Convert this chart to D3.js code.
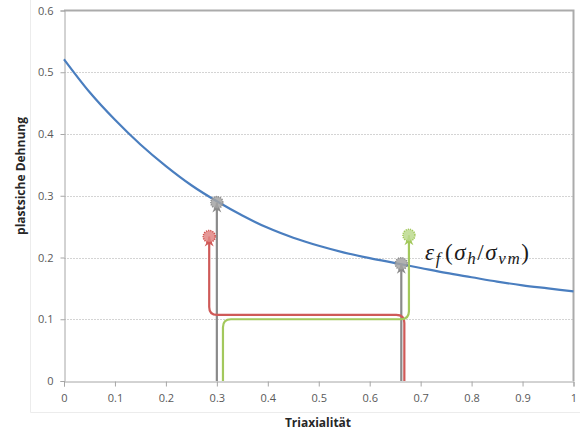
<!DOCTYPE html>
<html>
<head>
<meta charset="utf-8">
<script src="https://cdn.jsdelivr.net/npm/d3@7"></script>
<style>
  html, body { margin: 0; padding: 0; background: #fff; }
  svg { display: block; }
</style>
</head>
<body>
<svg id="chart" width="580" height="434"></svg>
<script>
// Fracture strain as a function of stress triaxiality
const triaxiality = [0, 0.05, 0.1, 0.15, 0.2, 0.25, 0.3, 0.35, 0.4, 0.45, 0.5,
                     0.55, 0.6, 0.65, 0.7, 0.75, 0.8, 0.85, 0.9, 0.95, 1];
const strain = [0.521, 0.468, 0.423, 0.383, 0.348, 0.317, 0.291, 0.268, 0.248, 0.232, 0.219,
                0.208, 0.199, 0.191, 0.183, 0.175, 0.168, 0.161, 0.155, 0.150, 0.145];

// Tick labels
const xTicks = [0, 0.1, 0.2, 0.3, 0.4, 0.5, 0.6, 0.7, 0.8, 0.9, 1];
const xTickLabels = ["0", "0.1", "0.2", "0.3", "0.4", "0.5", "0.6", "0.7", "0.8", "0.9", "1"];
const yTicks = [0, 0.1, 0.2, 0.3, 0.4, 0.5, 0.6];
const yTickLabels = ["0", "0.1", "0.2", "0.3", "0.4", "0.5", "0.6"];

// Load paths: vertical arrows straight up to the curve, and two rerouted paths
const greyPathA = [[0.300, 0], [0.300, 0.289]];
const greyPathB = [[0.662, 0], [0.662, 0.190]];
const redPath   = [[0.668, 0], [0.668, 0.107], [0.285, 0.107], [0.285, 0.234]];
const greenPath = [[0.312, 0], [0.312, 0.100], [0.677, 0.100], [0.677, 0.236]];

// End points of the paths
const pointX = [0.300, 0.662, 0.285, 0.677];
const pointY = [0.289, 0.190, 0.234, 0.236];
const pointKind = ["grey", "grey", "red", "green"];

const svg = d3.select("#chart");
const x = d3.scaleLinear().domain([0, 1]).range([64, 573.5]);
const y = d3.scaleLinear().domain([0, 0.6]).range([381, 10.5]);

const colors = {
  grey:  { line: "#8a8a8a", fill: "#a3a3a3", edge: "#8e8e8e" },
  red:   { line: "#cf5a58", fill: "#e28684", edge: "#cf4f4d" },
  green: { line: "#a3c85c", fill: "#bcd98e", edge: "#a3c85c" }
};

// Faint chart-area frame
svg.append("path")
  .attr("d", "M30.5,0 V412.5 H580")
  .attr("fill", "none")
  .attr("stroke", "#ececec")
  .attr("stroke-width", 1);

// Horizontal gridlines
svg.append("g")
  .selectAll("line")
  .data(yTicks.filter(v => v > 0 && v < 0.6))
  .join("line")
  .attr("x1", x(0)).attr("x2", x(1))
  .attr("y1", d => Math.round(y(d)) + 0.5).attr("y2", d => Math.round(y(d)) + 0.5)
  .attr("stroke", "#d4d4d4")
  .attr("stroke-dasharray", "2,1")
  .attr("stroke-width", 1);

// Plot area top and right edges
svg.append("path")
  .attr("d", `M${x(0)},${y(0.6)} H${x(1)} V${y(0)}`)
  .attr("fill", "none")
  .attr("stroke", "#ababab")
  .attr("stroke-width", 2);

// Axes
const fontFamily = "'Open Sans', 'Liberation Sans', sans-serif";
const yAxis = d3.axisLeft(y).tickValues(yTicks)
  .tickFormat((d, i) => yTickLabels[i]).tickSize(4).tickPadding(7);
const xAxis = d3.axisBottom(x).tickValues(xTicks)
  .tickFormat((d, i) => xTickLabels[i]).tickSize(5).tickPadding(8);

const gy = svg.append("g").attr("transform", `translate(${x(0) + 0.5},0)`).call(yAxis);
const gx = svg.append("g").attr("transform", `translate(0,${y(0) + 0.5})`).call(xAxis);
[gx, gy].forEach(g => {
  g.select(".domain").attr("stroke", "#a6a6a6");
  g.selectAll(".tick line").attr("stroke", "#a6a6a6");
  g.selectAll(".tick text")
    .attr("fill", "#595959")
    .style("font-family", fontFamily)
    .style("font-size", "11px");
});

// Curve
const line = d3.line()
  .x((d, i) => x(triaxiality[i]))
  .y(d => y(d))
  .curve(d3.curveMonotoneX);
svg.append("path")
  .datum(strain)
  .attr("d", line)
  .attr("fill", "none")
  .attr("stroke", "#4a7ebf")
  .attr("stroke-width", 2.2);

// Arrowheads (tip at the path end, pointing along the path)
const defs = svg.append("defs");
Object.entries(colors).forEach(([k, c]) => {
  defs.append("marker")
    .attr("id", "arrow-" + k)
    .attr("viewBox", "-11 -6 12 12")
    .attr("refX", 0).attr("refY", 0)
    .attr("markerWidth", 12).attr("markerHeight", 12)
    .attr("markerUnits", "userSpaceOnUse")
    .attr("orient", "auto")
    .append("path")
    .attr("d", "M0,0 L-10,-4.5 L-7,0 L-10,4.5 Z")
    .attr("fill", c.line);
});

// Path builder with rounded corners
function roundedPath(pts, r) {
  const p = pts.map(d => [x(d[0]), y(d[1])]);
  let s = `M${p[0][0]},${p[0][1]}`;
  for (let i = 1; i < p.length - 1; i++) {
    const [ax, ay] = p[i - 1], [bx, by] = p[i], [cx, cy] = p[i + 1];
    const d1 = Math.hypot(bx - ax, by - ay), d2 = Math.hypot(cx - bx, cy - by);
    const rr = Math.min(r, d1 / 2, d2 / 2);
    const sx = bx - (bx - ax) / d1 * rr, sy = by - (by - ay) / d1 * rr;
    const ex = bx + (cx - bx) / d2 * rr, ey = by + (cy - by) / d2 * rr;
    s += ` L${sx},${sy} Q${bx},${by} ${ex},${ey}`;
  }
  const last = p[p.length - 1];
  s += ` L${last[0]},${last[1]}`;
  return s;
}

const routes = [
  { pts: greyPathA, kind: "grey" },
  { pts: greyPathB, kind: "grey" },
  { pts: redPath, kind: "red" },
  { pts: greenPath, kind: "green" }
];
svg.append("g")
  .selectAll("path")
  .data(routes)
  .join("path")
  .attr("d", d => roundedPath(d.pts, 8))
  .attr("fill", "none")
  .attr("stroke", d => colors[d.kind].line)
  .attr("stroke-width", 2.2)
  .attr("marker-end", d => `url(#arrow-${d.kind})`);

// Points
svg.append("g")
  .selectAll("circle")
  .data(pointX)
  .join("circle")
  .attr("cx", d => x(d))
  .attr("cy", (d, i) => y(pointY[i]))
  .attr("r", 6)
  .attr("fill", (d, i) => colors[pointKind[i]].fill)
  .attr("fill-opacity", 0.85)
  .attr("stroke", (d, i) => colors[pointKind[i]].edge)
  .attr("stroke-width", 1.5)
  .attr("stroke-dasharray", "1.2,1");

// Curve label: ε_f(σ_h/σ_vm)
const label = svg.append("text")
  .attr("x", 425)
  .attr("y", 260)
  .attr("fill", "#1a1a1a")
  .style("font-family", "'Liberation Serif', 'DejaVu Serif', serif")
  .style("font-size", "23px")
  .style("letter-spacing", "1.6px");
label.append("tspan").attr("font-style", "italic").text("ε");
label.append("tspan").attr("font-style", "italic").attr("font-size", "17px").attr("dy", 4).text("f");
label.append("tspan").attr("dy", -4).attr("dx", 3).text("(");
label.append("tspan").attr("font-style", "italic").text("σ");
label.append("tspan").attr("font-style", "italic").attr("font-size", "17px").attr("dy", 4).text("h");
label.append("tspan").attr("dy", -4).text("/");
label.append("tspan").attr("font-style", "italic").text("σ");
label.append("tspan").attr("font-style", "italic").attr("font-size", "17px").attr("dy", 4).text("vm");
label.append("tspan").attr("dy", -4).text(")");

// Axis titles
svg.append("text")
  .attr("x", 318).attr("y", 427)
  .attr("text-anchor", "middle")
  .attr("fill", "#262626")
  .style("font-family", fontFamily)
  .style("font-weight", "bold")
  .style("font-size", "12px")
  .text("Triaxialität");

svg.append("text")
  .attr("transform", "translate(25,176) rotate(-90)")
  .attr("text-anchor", "middle")
  .attr("fill", "#262626")
  .style("font-family", fontFamily)
  .style("font-weight", "bold")
  .style("font-size", "12px")
  .text("plastsiche Dehnung");
</script>
</body>
</html>
